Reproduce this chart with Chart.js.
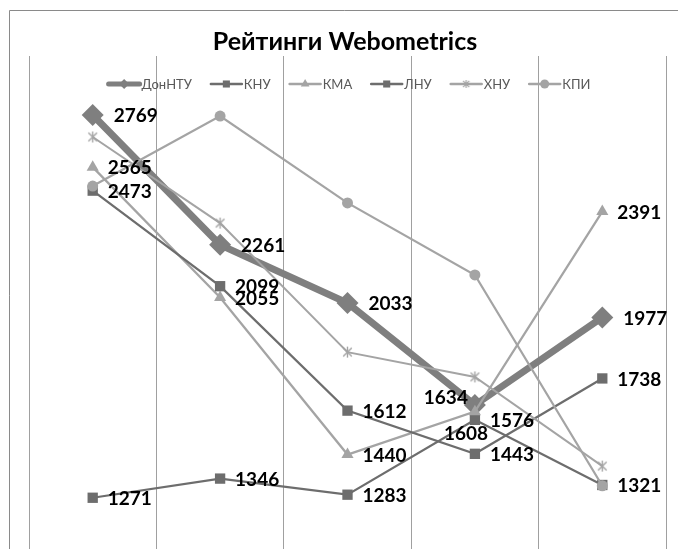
<!DOCTYPE html>
<html><head><meta charset="utf-8">
<script src="https://cdn.jsdelivr.net/npm/chart.js@4.4.1/dist/chart.umd.min.js"></script>
<style>html,body{margin:0;padding:0;background:#fff;overflow:hidden;width:678px;height:549px}canvas{display:block}</style>
</head><body>
<canvas id="c" width="678" height="580" style="width:678px;height:580px"></canvas>
<script>
// ---- data ----
const chartTitle = 'Рейтинги Webometrics';
const categories = ['1', '2', '3', '4', '5'];
const seriesNames = ['ДонНТУ', 'КНУ', 'КМА', 'ЛНУ', 'ХНУ', 'КПИ'];
const donntu = [2769, 2261, 2033, 1634, 1977];
const knu    = [1271, 1346, 1283, 1576, 1321];
const kma    = [2565, 2055, 1440, 1608, 2391];
const lnu    = [2473, 2099, 1612, 1443, 1738];
const xnu    = [2683, 2346, 1841, 1744, 1395];
const kpi    = [2491, 2765, 2425, 2143, 1318];
const seriesValues = [donntu, knu, kma, lnu, xnu, kpi];
const labeledSeries = ['ДонНТУ', 'КНУ', 'КМА', 'ЛНУ'];
const yMin = 1000, yMax = 3000;

// ---- styles ----
const DARK = '#6d6d6d', MID = '#7f7f7f', LIGHT = '#a4a4a4';
function makeAsterisk(size, color, lw) {
  const c = document.createElement('canvas');
  c.width = size; c.height = size;
  const g = c.getContext('2d');
  g.strokeStyle = color; g.lineWidth = lw;
  const m = size / 2, r = size / 2 - 1;
  g.beginPath();
  g.moveTo(m, m - r); g.lineTo(m, m + r);
  const d = r * 0.78;
  g.moveTo(m - d, m - d); g.lineTo(m + d, m + d);
  g.moveTo(m - d, m + d); g.lineTo(m + d, m - d);
  g.stroke();
  return c;
}
const styles = [
  {color: MID,   width: 7,    point: 'rectRot',  radius: 11, lw: 5,   lr: 5,   dx: 21},
  {color: DARK,  width: 2.25, point: 'rect',     radius: 7.3, lw: 2.5, lr: 5,   dx: 15},
  {color: LIGHT, width: 2.25, point: 'triangle', radius: 7,  lw: 2.5, lr: 5,   dx: 15},
  {color: DARK,  width: 2.25, point: 'rect',     radius: 7.3, lw: 2.5, lr: 5,   dx: 15},
  {color: LIGHT, width: 2,    point: makeAsterisk(13, LIGHT, 1.4), legendPoint: makeAsterisk(10, LIGHT, 1.2), radius: 6, lw: 2.5, lr: 5, dx: 15},
  {color: LIGHT, width: 2.25, point: 'circle',   radius: 5.5, lw: 2.5, lr: 4.5, dx: 15}
];
// label placement exceptions (series name : index)
const labelOverrides = {
  'ДонНТУ:3': {align: 'right', dx: -7, dy: -7},
  'КМА:3': {align: 'left', dx: -31, dy: 22}
};

function drawMarker(ctx, style, x, y, r, color) {
  ctx.save();
  ctx.fillStyle = color;
  ctx.beginPath();
  if (style instanceof HTMLCanvasElement) {
    ctx.drawImage(style, x - style.width / 2, y - style.height / 2);
    ctx.restore(); return;
  }
  if (style === 'rectRot') {
    ctx.moveTo(x - r, y); ctx.lineTo(x, y - r); ctx.lineTo(x + r, y); ctx.lineTo(x, y + r); ctx.closePath();
  } else if (style === 'rect') {
    const s = r * Math.SQRT1_2; ctx.rect(x - s, y - s, 2 * s, 2 * s);
  } else if (style === 'triangle') {
    ctx.moveTo(x, y - r); ctx.lineTo(x + r * 0.866, y + r * 0.5); ctx.lineTo(x - r * 0.866, y + r * 0.5); ctx.closePath();
  } else {
    ctx.arc(x, y, r, 0, Math.PI * 2);
  }
  ctx.fill();
  ctx.restore();
}

const framePlugin = {
  id: 'frame',
  beforeDraw(chart) {
    const ctx = chart.ctx;
    ctx.save();
    ctx.fillStyle = '#fff';
    ctx.fillRect(0, 0, chart.width, chart.height);
    ctx.strokeStyle = '#8a8a8a';
    ctx.lineWidth = 1;
    ctx.beginPath();
    ctx.moveTo(9.5, chart.height + 5); ctx.lineTo(9.5, 10.5); ctx.lineTo(chart.width + 5, 10.5);
    ctx.stroke();
    // title
    ctx.fillStyle = '#000';
    ctx.font = 'bold 25px Lato';
    ctx.textAlign = 'center';
    ctx.textBaseline = 'alphabetic';
    ctx.fillText(chartTitle, 345, 50);
    ctx.restore();
  },
  afterDraw(chart) {
    const ctx = chart.ctx;
    ctx.save();
    ctx.font = '13px Lato';
    const lineLen = 33, gap = 1, itemGap = 18;
    const widths = seriesNames.map(n => lineLen + gap + ctx.measureText(n).width);
    const total = widths.reduce((a, b) => a + b, 0) + itemGap * (seriesNames.length - 1);
    let x = 349 - total / 2;
    const y = 84;
    seriesNames.forEach((n, i) => {
      const st = styles[i];
      ctx.strokeStyle = st.color;
      ctx.lineWidth = st.lw;
      ctx.lineCap = 'round';
      ctx.beginPath(); ctx.moveTo(x + 1, y); ctx.lineTo(x + lineLen - 1, y); ctx.stroke();
      drawMarker(ctx, st.legendPoint || st.point, x + lineLen / 2, y, st.lr, st.color);
      ctx.fillStyle = '#595959';
      ctx.textAlign = 'left';
      ctx.textBaseline = 'middle';
      ctx.fillText(n, x + lineLen + gap, y + 1);
      x += widths[i] + itemGap;
    });
    ctx.restore();
  },
  afterDatasetsDraw(chart) {
    const ctx = chart.ctx;
    ctx.save();
    ctx.font = 'bold 19px Lato';
    ctx.fillStyle = '#000';
    ctx.textBaseline = 'middle';
    chart.data.datasets.forEach((ds, di) => {
      if (!labeledSeries.includes(ds.label)) return;
      const meta = chart.getDatasetMeta(di);
      meta.data.forEach((pt, i) => {
        const o = labelOverrides[ds.label + ':' + i];
        const dx = o ? o.dx : styles[di].dx;
        const dy = o ? o.dy : 1;
        ctx.textAlign = o ? o.align : 'left';
        ctx.fillText(String(ds.data[i]), pt.x + dx, pt.y + dy);
      });
    });
    ctx.restore();
  }
};

const datasets = seriesNames.map((name, i) => ({
  label: name,
  data: seriesValues[i],
  borderColor: styles[i].color,
  backgroundColor: styles[i].color,
  borderWidth: styles[i].width,
  pointStyle: styles[i].point,
  pointRadius: styles[i].radius,
  pointHoverRadius: styles[i].radius,
  pointBackgroundColor: styles[i].color,
  pointBorderColor: styles[i].color,
  pointBorderWidth: 0,
  tension: 0,
  fill: false,
  clip: false,
  order: seriesNames.length - i
}));

new Chart(document.getElementById('c'), {
  type: 'line',
  data: {labels: categories, datasets},
  options: {
    responsive: false,
    devicePixelRatio: 1,
    animation: false,
    layout: {padding: {left: 29, right: 12, top: 56, bottom: 13}},
    plugins: {legend: {display: false}, title: {display: false}, tooltip: {enabled: false}},
    scales: {
      x: {
        type: 'category',
        offset: true,
        grid: {display: true, offset: true, color: '#a0a0a0', lineWidth: 1, drawTicks: false},
        border: {display: false},
        ticks: {display: false},
        afterFit(s) { s.height = 0; }
      },
      y: {display: false, min: yMin, max: yMax}
    }
  },
  plugins: [framePlugin]
});
</script>
</body></html>
